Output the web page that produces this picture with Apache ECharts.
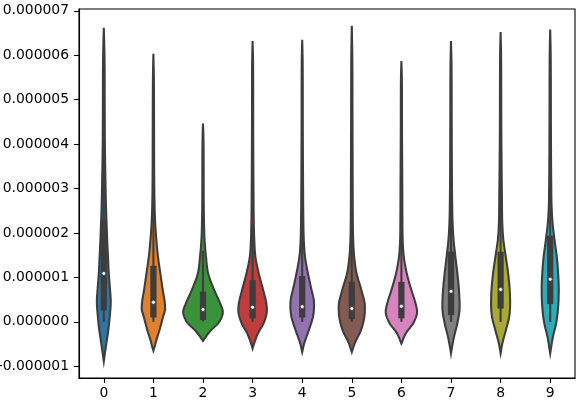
<!DOCTYPE html>
<html>
<head>
<meta charset="utf-8">
<script src="https://cdn.jsdelivr.net/npm/echarts@6/dist/echarts.min.js"></script>
<style>
html,body{margin:0;padding:0;background:#fff;}
#chart{width:581px;height:406px;}
</style>
</head>
<body>
<div id="chart"></div>
<script>
// ---- data (values in units of 1e-6) ----
const categories = ['0','1','2','3','4','5','6','7','8','9'];

// violin density profiles: [value, relative density (1 = widest violin)]
const curve0 = [[-0.886,0],[-0.79,0.03],[-0.48,0.13],[-0.18,0.23],[0.12,0.30],[0.45,0.35],[0.75,0.31],[1.1,0.25],[1.47,0.21],[1.85,0.17],[2.22,0.14],[2.6,0.11],[3.0,0.09],[3.5,0.07],[4.0,0.055],[5.0,0.045],[5.8,0.04],[6.3,0.02],[6.62,0]];
const curve1 = [[-0.65,0],[-0.56,0.06],[-0.41,0.15],[-0.18,0.31],[0.12,0.49],[0.3,0.59],[0.45,0.57],[0.72,0.47],[1.09,0.35],[1.47,0.23],[1.84,0.15],[2.22,0.09],[2.6,0.06],[3.0,0.045],[4.0,0.035],[5.0,0.03],[5.6,0.02],[6.03,0]];
const curve2 = [[-0.43,0],[-0.33,0.15],[-0.18,0.42],[-0.03,0.77],[0.12,0.95],[0.22,1.0],[0.42,0.86],[0.72,0.56],[1.09,0.26],[1.47,0.15],[1.84,0.08],[2.4,0.045],[3.0,0.035],[3.8,0.03],[4.2,0.02],[4.46,0]];
const curve3 = [[-0.60,0],[-0.48,0.08],[-0.26,0.27],[-0.03,0.555],[0.27,0.72],[0.42,0.69],[0.72,0.53],[1.09,0.31],[1.47,0.14],[1.84,0.085],[2.4,0.055],[3.0,0.045],[4.5,0.03],[5.8,0.025],[6.32,0]];
const curve4 = [[-0.68,0],[-0.48,0.105],[-0.18,0.34],[0.12,0.545],[0.35,0.595],[0.5,0.58],[0.72,0.47],[1.09,0.29],[1.47,0.14],[1.84,0.08],[2.4,0.055],[3.0,0.045],[4.5,0.03],[5.8,0.025],[6.35,0]];
const curve5 = [[-0.68,0],[-0.48,0.15],[-0.18,0.47],[0.12,0.635],[0.34,0.66],[0.72,0.48],[1.09,0.24],[1.47,0.12],[1.84,0.07],[2.4,0.05],[3.0,0.045],[4.5,0.035],[6.0,0.025],[6.663,0]];
const curve6 = [[-0.49,0],[-0.26,0.22],[-0.03,0.595],[0.23,0.79],[0.42,0.71],[0.72,0.50],[1.09,0.27],[1.47,0.12],[1.84,0.065],[2.4,0.05],[3.0,0.045],[4.5,0.03],[5.4,0.025],[5.87,0]];
const curve7 = [[-0.71,0],[-0.56,0.055],[-0.33,0.155],[-0.03,0.32],[0.34,0.435],[0.72,0.40],[1.09,0.32],[1.47,0.22],[1.84,0.13],[2.22,0.08],[2.6,0.06],[3.0,0.05],[4.5,0.035],[5.8,0.025],[6.32,0]];
const curve8 = [[-0.71,0],[-0.48,0.09],[-0.18,0.27],[0.12,0.435],[0.42,0.48],[0.72,0.46],[1.09,0.38],[1.47,0.26],[1.84,0.14],[2.22,0.085],[2.6,0.07],[2.9,0.065],[3.3,0.055],[4.5,0.035],[6.0,0.025],[6.52,0]];
const curve9 = [[-0.71,0],[-0.33,0.14],[-0.03,0.30],[0.34,0.40],[0.72,0.43],[1.09,0.40],[1.47,0.33],[1.84,0.22],[2.22,0.12],[2.6,0.07],[3.0,0.055],[4.5,0.035],[6.0,0.025],[6.58,0]];
const curves = [curve0,curve1,curve2,curve3,curve4,curve5,curve6,curve7,curve8,curve9];

// inner box statistics
const whiskerLow  = [0.0, 0.0, 0.01, 0.0, 0.0, 0.0, 0.0, 0.0, 0.0, 0.0];
const q1          = [0.26, 0.10, 0.04, 0.08, 0.10, 0.06, 0.08, 0.15, 0.30, 0.40];
const median      = [1.09, 0.44, 0.28, 0.33, 0.34, 0.30, 0.35, 0.69, 0.73, 0.96];
const q3          = [2.3, 1.26, 0.68, 0.94, 1.03, 0.90, 0.90, 1.58, 1.58, 1.94];
const whiskerHigh = [5.4, 3.0, 1.6, 2.2, 2.4, 2.15, 2.1, 3.7, 3.5, 4.2];

// y-axis ticks
const yTickValues = [-1, 0, 1, 2, 3, 4, 5, 6, 7];
const yTickLabels = ['-0.000001','0.000000','0.000001','0.000002','0.000003','0.000004','0.000005','0.000006','0.000007'];

// ---- styles ----
const palette = ['#3274a1','#e1812c','#3a923a','#c03d3e','#9372b2','#845b53','#d684bd','#7f7f7f','#a9aa35','#2eabb8'];
const gray = '#3d3d3d';
const FONT = 'DejaVu Sans';

// monotone cubic interpolation (Fritsch-Carlson) for drawing smooth density outline
function monotone(xs, ys) {
  const n = xs.length, d = [], m = new Array(n);
  for (let i = 0; i < n - 1; i++) d.push((ys[i+1]-ys[i])/(xs[i+1]-xs[i]));
  m[0] = d[0]; m[n-1] = d[n-2];
  for (let i = 1; i < n - 1; i++) m[i] = (d[i-1]*d[i] <= 0) ? 0 : (d[i-1]+d[i])/2;
  for (let i = 0; i < n - 1; i++) {
    if (d[i] === 0) { m[i] = 0; m[i+1] = 0; continue; }
    const a = m[i]/d[i], b = m[i+1]/d[i], s = a*a + b*b;
    if (s > 9) { const t = 3/Math.sqrt(s); m[i] = t*a*d[i]; m[i+1] = t*b*d[i]; }
  }
  return function (x) {
    let i = 0;
    while (i < n - 2 && x > xs[i+1]) i++;
    const h = xs[i+1]-xs[i], t = (x-xs[i])/h, t2 = t*t, t3 = t2*t;
    return (2*t3-3*t2+1)*ys[i] + (t3-2*t2+t)*h*m[i] + (-2*t3+3*t2)*ys[i+1] + (t3-t2)*h*m[i+1];
  };
}

const chart = echarts.init(document.getElementById('chart'), null, {renderer: 'canvas'});
chart.setOption({
  animation: false,
  backgroundColor: '#fff',
  grid: {left: 79, right: 6, top: 9, bottom: 28, show: true, borderColor: '#000', borderWidth: 1.1,
         backgroundColor: 'transparent', containLabel: false, outerBoundsMode: 'none'},
  xAxis: {
    type: 'category',
    data: categories,
    axisLine: {show: true, onZero: false, lineStyle: {color: '#000', width: 1.1}},
    axisTick: {show: true, alignWithLabel: true, length: 4.9, lineStyle: {color: '#000', width: 1.1}},
    axisLabel: {color: '#000', fontSize: 13.9, fontFamily: FONT, margin: 8},
    splitLine: {show: false}
  },
  yAxis: {
    type: 'value',
    min: -1.263,
    max: 7.04,
    axisLine: {show: true, lineStyle: {color: '#000', width: 1.1}},
    axisTick: {show: true, length: 4.9, customValues: yTickValues, lineStyle: {color: '#000', width: 1.1}},
    axisLabel: {
      color: '#000', fontSize: 13.9, fontFamily: FONT, margin: 10,
      customValues: yTickValues,
      formatter: function (v) {
        const idx = yTickValues.findIndex(t => Math.abs(t - v) < 1e-9);
        return idx >= 0 ? yTickLabels[idx] : '';
      }
    },
    splitLine: {show: false}
  },
  series: [{
    type: 'custom',
    data: categories.map((c, i) => [i]),
    clip: false,
    renderItem: function (params, api) {
      const i = api.value(0);
      const curve = curves[i];
      const cx = api.coord([i, 0])[0];
      const halfMax = api.size([1, 0])[0] * 0.4;
      const ys = curve.map(p => p[0]), ds = curve.map(p => p[1]);
      const f = monotone(ys, ds);
      const y0 = ys[0], y1 = ys[ys.length - 1];
      const N = 300, right = [], left = [];
      for (let k = 0; k <= N; k++) {
        const yv = y0 + (y1 - y0) * k / N;
        const w = Math.max(0, f(yv)) * halfMax;
        const py = api.coord([i, yv])[1];
        right.push([cx + w, py]);
        left.push([cx - w, py]);
      }
      const pts = right.concat(left.reverse());
      const yc = v => api.coord([i, v])[1];
      return {
        type: 'group',
        children: [
          {type: 'polygon', shape: {points: pts}, style: {fill: palette[i], stroke: gray, lineWidth: 2.08}},
          {type: 'line', shape: {x1: cx, y1: yc(whiskerLow[i]), x2: cx, y2: yc(whiskerHigh[i])}, style: {stroke: gray, lineWidth: 2.08}},
          {type: 'line', shape: {x1: cx, y1: yc(q1[i]), x2: cx, y2: yc(q3[i])}, style: {stroke: gray, lineWidth: 6.25, lineCap: 'butt'}},
          {type: 'circle', shape: {cx: cx, cy: yc(median[i]), r: 2.0}, style: {fill: '#fff', stroke: gray, lineWidth: 0.8}}
        ]
      };
    }
  }]
});
</script>
</body>
</html>
